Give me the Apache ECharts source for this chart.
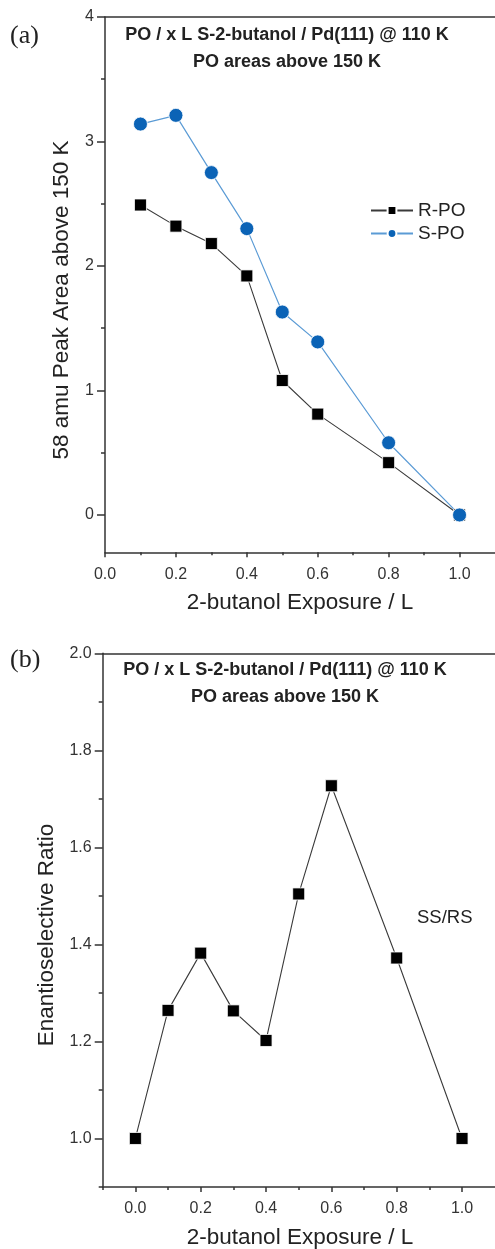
<!DOCTYPE html>
<html><head><meta charset="utf-8">
<script src="https://cdn.jsdelivr.net/npm/echarts@6/dist/echarts.min.js"></script>
<style>html,body{margin:0;padding:0;background:#fff}#c{width:495px;height:1249px}</style>
</head><body><div id="c"></div>
<script>
// ---- data ----
var exposureA = [0.1, 0.2, 0.3, 0.4, 0.5, 0.6, 0.8, 1.0];
var rPO = [2.49, 2.32, 2.18, 1.92, 1.08, 0.81, 0.42, 0.0];
var sPO = [3.14, 3.21, 2.75, 2.30, 1.63, 1.39, 0.58, 0.0];
var exposureB = [0.0, 0.1, 0.2, 0.3, 0.4, 0.5, 0.6, 0.8, 1.0];
var ratio = [1.0, 1.264, 1.382, 1.263, 1.202, 1.504, 1.727, 1.372, 1.0];
var xMajorA = [0, 0.2, 0.4, 0.6, 0.8, 1.0];
var xMinorA = [0.1, 0.3, 0.5, 0.7, 0.9];
var yMajorA = [0, 1, 2, 3, 4];
var yMinorA = [0.5, 1.5, 2.5, 3.5];
var xMajorB = [0, 0.2, 0.4, 0.6, 0.8, 1.0];
var xMinorB = [-0.1, 0.1, 0.3, 0.5, 0.7, 0.9];
var yMajorB = [1.0, 1.2, 1.4, 1.6, 1.8, 2.0];
var yMinorB = [0.9, 1.1, 1.3, 1.5, 1.7, 1.9];

function pairs(xs, ys) { return xs.map(function (x, i) { return [x, ys[i]]; }); }

var AX = '#333';
var FONT = 'Liberation Sans, Arial, sans-serif';
function axisMajor(gi, pos, min, max, ticks, len, dec, margin) {
  return {
    type: 'value', gridIndex: gi, position: pos, min: min, max: max,
    axisLine: { show: true, onZero: false, lineStyle: { color: AX, width: 1.5 } },
    axisTick: { show: true, inside: false, length: len, customValues: ticks, lineStyle: { color: AX, width: 1.5 } },
    axisLabel: { show: true, customValues: ticks, margin: margin, fontSize: 16, color: '#333', fontFamily: FONT,
      formatter: function (v) { return dec ? v.toFixed(dec) : String(Math.round(v)); } },
    splitLine: { show: false }
  };
}
function axisMinor(gi, pos, min, max, ticks, len) {
  return {
    type: 'value', gridIndex: gi, position: pos, min: min, max: max,
    axisLine: { show: false, onZero: false },
    axisTick: { show: true, inside: false, length: len, customValues: ticks, lineStyle: { color: AX, width: 1.5 } },
    axisLabel: { show: false, customValues: ticks },
    splitLine: { show: false }
  };
}
function axisFrame(gi, pos, min, max) {
  return {
    type: 'value', gridIndex: gi, position: pos, min: min, max: max,
    axisLine: { show: true, onZero: false, lineStyle: { color: AX, width: 1.5 } },
    axisTick: { show: false }, axisLabel: { show: false }, splitLine: { show: false }
  };
}

function txt(x, y, s, size, opts) {
  opts = opts || {};
  return {
    type: 'text', x: x, y: y, rotation: opts.rot || 0, silent: true,
    style: { text: s, fontSize: size, fontFamily: opts.family || FONT, fontWeight: opts.bold ? 'bold' : 'normal',
      fill: opts.color || '#222', textAlign: opts.align || 'center', textVerticalAlign: 'middle' }
  };
}

var chart = echarts.init(document.getElementById('c'), null, { renderer: 'canvas' });
chart.setOption({
  animation: false,
  backgroundColor: '#fff',
  grid: [
    { left: 105, top: 17, width: 392, height: 535.3, show: false },
    { left: 102.7, top: 653.3, width: 392, height: 533.7, show: false }
  ],
  xAxis: [
    axisMajor(0, 'bottom', 0, 1.1, xMajorA, 5, 1, 14),
    axisMinor(0, 'bottom', 0, 1.1, xMinorA, 3),
    axisFrame(0, 'top', 0, 1.1),
    axisMajor(1, 'bottom', -0.1, 1.1, xMajorB, 5, 1, 14),
    axisMinor(1, 'bottom', -0.1, 1.1, xMinorB, 3),
    axisFrame(1, 'top', -0.1, 1.1)
  ],
  yAxis: [
    axisMajor(0, 'left', -0.3, 4, yMajorA, 8, 0, 11),
    axisMinor(0, 'left', -0.3, 4, yMinorA, 4),
    axisMajor(1, 'left', 0.9, 2.0, yMajorB, 8, 1, 11),
    axisMinor(1, 'left', 0.9, 2.0, yMinorB, 4)
  ],
  legend: {
    orient: 'vertical', left: 370, top: 201, padding: 0, itemWidth: 42, itemHeight: 11, itemGap: 4,
    textStyle: { fontSize: 19, color: '#222', fontFamily: FONT },
    data: ['R-PO', 'S-PO']
  },
  series: [
    { name: 'R-PO', type: 'line', xAxisIndex: 0, yAxisIndex: 0, data: pairs(exposureA, rPO),
      symbol: 'rect', symbolSize: 12,
      itemStyle: { color: '#000', borderColor: '#fff', borderWidth: 0.8 },
      lineStyle: { color: '#3a3a3a', width: 1.1 } },
    { name: 'S-PO', type: 'line', xAxisIndex: 0, yAxisIndex: 0, data: pairs(exposureA, sPO),
      symbol: 'circle', symbolSize: 14,
      itemStyle: { color: '#0b63b6', borderColor: '#fff', borderWidth: 0.8 },
      lineStyle: { color: '#5b9bd5', width: 1.2 } },
    { name: 'SS/RS', type: 'line', xAxisIndex: 3, yAxisIndex: 2, data: pairs(exposureB, ratio),
      symbol: 'rect', symbolSize: 12,
      itemStyle: { color: '#000', borderColor: '#fff', borderWidth: 0.8 },
      lineStyle: { color: '#3a3a3a', width: 1.1 } }
  ],
  graphic: [
    txt(10, 36, '(a)', 26, { family: 'Liberation Serif, Times New Roman, serif', align: 'left' }),
    txt(287, 35, 'PO / x L S-2-butanol / Pd(111) @ 110 K', 18, { bold: true }),
    txt(287, 62, 'PO areas above 150 K', 18, { bold: true }),
    txt(62, 300, '58 amu Peak Area above 150 K', 22.5, { rot: Math.PI / 2 }),
    txt(300, 603, '2-butanol Exposure / L', 22.5),
    txt(10, 660, '(b)', 26, { family: 'Liberation Serif, Times New Roman, serif', align: 'left' }),
    txt(285, 670, 'PO / x L S-2-butanol / Pd(111) @ 110 K', 18, { bold: true }),
    txt(285, 697, 'PO areas above 150 K', 18, { bold: true }),
    txt(417, 918, 'SS/RS', 18.5, { align: 'left' }),
    txt(47, 935, 'Enantioselective Ratio', 22.5, { rot: Math.PI / 2 }),
    txt(300, 1238, '2-butanol Exposure / L', 22.5)
  ]
});
</script></body></html>
